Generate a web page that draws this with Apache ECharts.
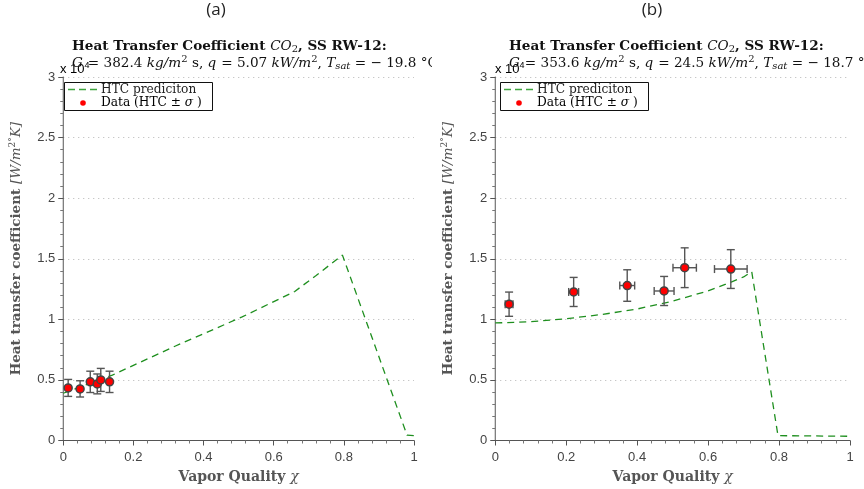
<!DOCTYPE html>
<html>
<head>
<meta charset="utf-8">
<script src="https://cdn.jsdelivr.net/npm/echarts@6/dist/echarts.min.js"></script>
<style>
  html, body { margin: 0; padding: 0; background: #fff; }
  .panel { position: absolute; top: 0; width: 432px; height: 489px; }
  #pa { left: 0; }
  #pb { left: 432px; }
</style>
</head>
<body>
<div id="pa" class="panel"></div>
<div id="pb" class="panel"></div>
<script>
// ---------------- data ----------------
const xTickValues = [0, 0.2, 0.4, 0.6, 0.8, 1];
const yTickValues = [0, 0.5, 1, 1.5, 2, 2.5, 3];
const legendNames = ['HTC prediciton', 'Data (HTC ± σ )'];

// Panel (a)
const predA_x = [0, 0.14, 0.32, 0.51, 0.66, 0.72, 0.796, 0.98, 1.0];
const predA_y = [0.39, 0.54, 0.78, 1.02, 1.23, 1.36, 1.53, 0.045, 0.04];
const dataA_x = [0.014, 0.048, 0.077, 0.097, 0.107, 0.132];
const dataA_y = [0.434, 0.426, 0.484, 0.467, 0.500, 0.484];
const dataA_yErr = [0.070, 0.067, 0.088, 0.082, 0.095, 0.088];
const dataA_xErr = [0, 0, 0, 0, 0, 0];
const titleA = { G: '382.4', q: '5.07', T: '19.8' };

// Panel (b)
const predB_x = [0, 0.1, 0.2, 0.3, 0.4, 0.5, 0.6, 0.65, 0.7, 0.723, 0.797, 1.0];
const predB_y = [0.97, 0.98, 1.005, 1.04, 1.085, 1.15, 1.235, 1.29, 1.35, 1.393, 0.04, 0.035];
const dataB_x = [0.039, 0.221, 0.372, 0.476, 0.534, 0.664];
const dataB_y = [1.125, 1.226, 1.279, 1.234, 1.426, 1.415];
const dataB_yErr = [0.100, 0.120, 0.130, 0.120, 0.164, 0.160];
const dataB_xErr = [0.011, 0.014, 0.021, 0.028, 0.033, 0.046];
const titleB = { G: '353.6', q: '24.5', T: '18.7' };

// ---------------- styles ----------------
const SERIF = '"DejaVu Serif", "Liberation Serif", serif';
const SANS = '"Liberation Sans", Arial, sans-serif';
const GREEN = '#1f8f1f';

function richSet(size, color) {
  const lh = size + 5;
  const small = Math.round(size * 0.7);
  return {
    b: { fontFamily: SERIF, fontWeight: 'bold', fontSize: size, color: color, lineHeight: lh },
    r: { fontFamily: SERIF, fontWeight: 'normal', fontSize: size, color: color, lineHeight: lh },
    i: { fontFamily: SERIF, fontStyle: 'italic', fontWeight: 'normal', fontSize: size, color: color, lineHeight: lh },
    sub: { fontFamily: SERIF, fontStyle: 'italic', fontWeight: 'normal', fontSize: small, color: color, lineHeight: small, padding: [6, 0, 0, 0] },
    subr: { fontFamily: SERIF, fontWeight: 'normal', fontSize: small, color: color, lineHeight: small, padding: [6, 0, 0, 0] },
    sup: { fontFamily: SERIF, fontWeight: 'normal', fontSize: small, color: color, lineHeight: small, padding: [0, 0, 7, 0] },
    s: { fontFamily: SANS, fontSize: 13, color: '#555', lineHeight: lh },
    ss: { fontFamily: SANS, fontSize: 9, color: '#555', lineHeight: 9, padding: [0, 0, 7, 0] }
  };
}

function legendGraphic(x0) {
  const y0 = 82;
  return [
    { type: 'rect', shape: { x: x0 + 0.5, y: y0 + 0.5, width: 148, height: 28 }, z: 50,
      style: { fill: '#fff', stroke: '#111', lineWidth: 1 } },
    { type: 'line', shape: { x1: x0 + 4, y1: y0 + 7.5, x2: x0 + 34, y2: y0 + 7.5 }, z: 51,
      style: { stroke: '#3fa53f', lineWidth: 1.4, lineDash: [7, 4] } },
    { type: 'circle', shape: { cx: x0 + 19, cy: y0 + 21, r: 2.8 }, z: 51,
      style: { fill: '#f00' } },
    { type: 'text', x: x0 + 37, y: y0 + 7.5, z: 51,
      style: { text: legendNames[0], font: '12.2px ' + SERIF, fill: '#222', verticalAlign: 'middle' } },
    { type: 'text', x: x0 + 37, y: y0 + 21, z: 51,
      style: { text: '{r|Data (HTC ± }{i|σ}{r| )}', verticalAlign: 'middle',
        rich: { r: { fontFamily: SERIF, fontSize: 12.2, color: '#222' },
                i: { fontFamily: SERIF, fontStyle: 'italic', fontSize: 12.2, color: '#222' } } } }
  ];
}

function buildOption(cfg) {
  const lineData = cfg.px.map((x, i) => [x, cfg.py[i]]);
  const ptData = cfg.dx.map((x, i) => [x, cfg.dy[i], cfg.dyErr[i], cfg.dxErr[i]]);
  const t = cfg.title;
  const line1 = '{b|Heat Transfer Coefficient }{i|CO}{subr|2}{b|, SS RW-12:}';
  const line2 = '{i|G} {r|= ' + t.G + ' }{i|kg/m}{sup|2}{r| s, }{i|q} {r|= ' + t.q + ' }{i|kW/m}{sup|2}{r|, }{i|T}{sub|sat}{r| = − ' + t.T + ' °C}';
  return {
    animation: false,
    backgroundColor: '#fff',
    title: [
      { text: cfg.label, left: cfg.labelX, top: 2, textAlign: 'center', padding: 0,
        textStyle: { fontFamily: '"Open Sans", "Noto Sans", sans-serif', fontSize: 17, fontWeight: 'normal', color: '#222' } },
      { text: line1, left: cfg.titleX, top: 37, padding: 0, textStyle: { rich: richSet(13.6, '#111') } },
      { text: line2, left: cfg.titleX, top: 54, padding: 0, textStyle: { rich: richSet(13.6, '#111') } }
    ],
    graphic: [
      { type: 'text', left: cfg.gridLeft, top: 61, z: -1,
        style: { text: '{s|x 10}{ss|4}', rich: richSet(13, '#555') } }
    ].concat(legendGraphic(cfg.legendLeft)),
    grid: { left: cfg.gridLeft, right: cfg.gridRight, top: 77, bottom: 46 },
    xAxis: {
      type: 'value', min: 0, max: 1, interval: 0.2,
      name: '{b|Vapor Quality }{i|χ}', nameLocation: 'middle', nameGap: 27,
      nameTextStyle: { rich: richSet(14, '#555') },
      axisLine: { show: true, lineStyle: { color: '#555', width: 1 } },
      axisTick: { show: true, inside: false, length: 5, lineStyle: { color: '#555' } },
      minorTick: { show: true, splitNumber: 5, length: 3, lineStyle: { color: '#777' } },
      axisLabel: { color: '#444', fontFamily: SANS, fontSize: 13, margin: 10,
        formatter: v => (xTickValues.indexOf(+v.toFixed(2)) >= 0 ? String(+v.toFixed(2)) : '') },
      splitLine: { show: false }
    },
    yAxis: {
      type: 'value', min: 0, max: 3, interval: 0.5,
      name: '{b|Heat transfer coefficient }{i|[W/m}{sup|2°}{i|K]}', nameLocation: 'middle', nameGap: 38,
      nameTextStyle: { rich: richSet(13.5, '#555'), padding: [0, 0, 0, 20] },
      axisLine: { show: true, lineStyle: { color: '#555', width: 1 } },
      axisTick: { show: true, inside: false, length: 5, lineStyle: { color: '#555' } },
      minorTick: { show: true, splitNumber: 5, length: 3, lineStyle: { color: '#777' } },
      axisLabel: { color: '#444', fontFamily: SANS, fontSize: 13, margin: 8,
        formatter: v => (yTickValues.indexOf(+v.toFixed(2)) >= 0 ? String(+v.toFixed(2)) : '') },
      splitLine: { show: true, lineStyle: { color: '#b5b5b5', type: [1, 4], width: 1 } }
    },
    series: [
      {
        name: legendNames[0], type: 'line', data: lineData, symbol: 'none', smooth: false,
        lineStyle: { color: GREEN, width: 1.3, type: [7, 5] }, itemStyle: { color: GREEN }, z: 2
      },
      {
        name: 'errbars', type: 'custom', data: ptData, z: 3,
        encode: { x: 0, y: 1 },
        renderItem: function (params, api) {
          const x = api.value(0), y = api.value(1), ey = api.value(2), ex = api.value(3);
          const top = api.coord([x, y + ey]);
          const bot = api.coord([x, y - ey]);
          const c = api.coord([x, y]);
          const cap = 4;
          const st = { stroke: '#555', lineWidth: 1.4 };
          const ch = [
            { type: 'line', shape: { x1: top[0], y1: top[1], x2: bot[0], y2: bot[1] }, style: st },
            { type: 'line', shape: { x1: top[0] - cap, y1: top[1], x2: top[0] + cap, y2: top[1] }, style: st },
            { type: 'line', shape: { x1: bot[0] - cap, y1: bot[1], x2: bot[0] + cap, y2: bot[1] }, style: st }
          ];
          if (ex > 0) {
            const l = api.coord([x - ex, y]);
            const r = api.coord([x + ex, y]);
            ch.push({ type: 'line', shape: { x1: l[0], y1: c[1], x2: r[0], y2: c[1] }, style: st });
            ch.push({ type: 'line', shape: { x1: l[0], y1: c[1] - cap, x2: l[0], y2: c[1] + cap }, style: st });
            ch.push({ type: 'line', shape: { x1: r[0], y1: c[1] - cap, x2: r[0], y2: c[1] + cap }, style: st });
          }
          return { type: 'group', children: ch };
        }
      },
      {
        name: legendNames[1], type: 'scatter', data: ptData.map(p => [p[0], p[1]]),
        symbol: 'circle', symbolSize: 8, z: 4,
        itemStyle: { color: '#f00', borderColor: '#444', borderWidth: 1.5, opacity: 1 }
      }
    ]
  };
}

const chartA = echarts.init(document.getElementById('pa'), null, { renderer: 'canvas' });
chartA.setOption(buildOption({
  label: '(a)', labelX: 216, titleX: 72, gridLeft: 60, gridRight: 18, legendLeft: 64,
  px: predA_x, py: predA_y, dx: dataA_x, dy: dataA_y, dyErr: dataA_yErr, dxErr: dataA_xErr, title: titleA
}));
const chartB = echarts.init(document.getElementById('pb'), null, { renderer: 'canvas' });
chartB.setOption(buildOption({
  label: '(b)', labelX: 220, titleX: 77, gridLeft: 63, gridRight: 14, legendLeft: 68,
  px: predB_x, py: predB_y, dx: dataB_x, dy: dataB_y, dyErr: dataB_yErr, dxErr: dataB_xErr, title: titleB
}));
</script>
</body>
</html>
